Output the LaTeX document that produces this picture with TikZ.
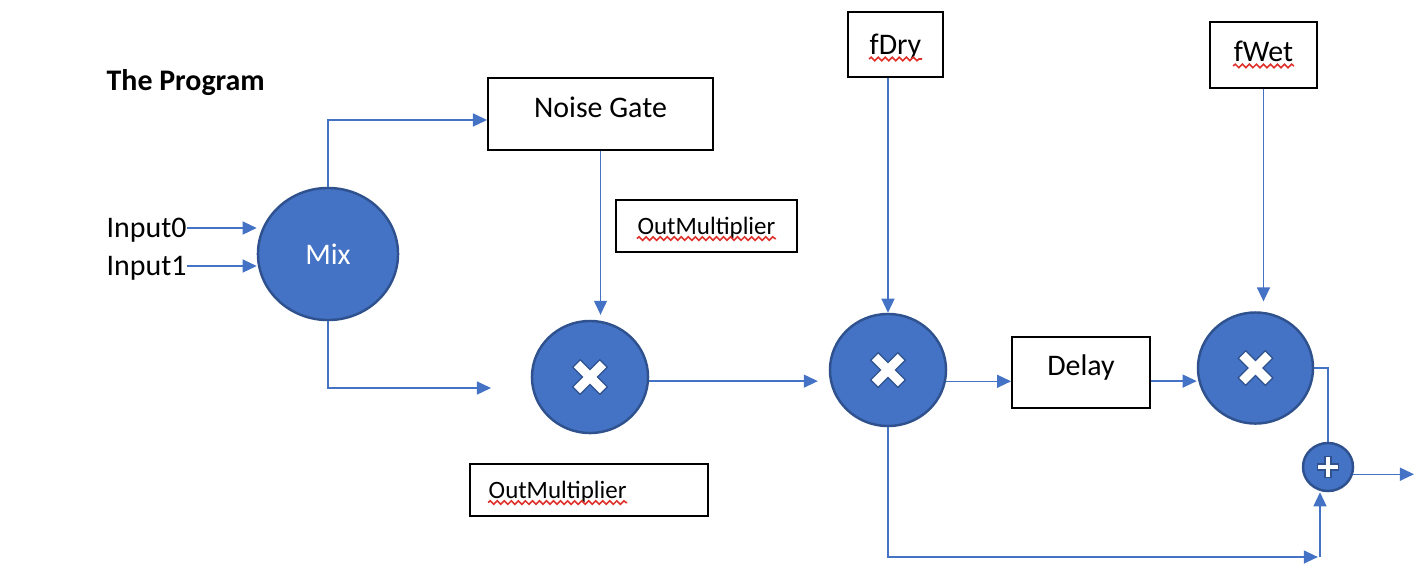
\documentclass[tikz,border=0pt]{standalone}
\usepackage{fontspec}
\setmainfont{Carlito}
\usetikzlibrary{shapes.geometric,arrows.meta,decorations.pathmorphing}
\definecolor{officeblue}{HTML}{4472C4}
\definecolor{officeline}{HTML}{2F528F}
\definecolor{spellred}{HTML}{E0302A}
\tikzset{
  op/.style={ellipse, draw=officeline, line width=0.7pt, fill=officeblue, inner sep=0pt, text=white, font=\fontsize{8.5}{10}\selectfont},
  box/.style={rectangle, draw=black, line width=0.5pt, fill=white, inner sep=0pt},
  lbl/.style={inner sep=0pt, text depth=0pt, font=\fontsize{8.5}{10}\selectfont},
  small/.style={inner sep=0pt, text depth=0pt, font=\fontsize{7.1}{9}\selectfont},
  heading/.style={inner sep=0pt, text depth=0pt, font=\fontsize{8.5}{10}\selectfont\bfseries},
  wire/.style={officeblue, line width=0.4pt},
  flow/.style={wire, -{Triangle[length=4pt,width=3.7pt]}},
  squiggle/.style={spellred, line width=0.45pt, decorate, decoration={snake, amplitude=0.5pt, segment length=2pt}},
  markout/.style={officeline, line width=3.4pt},
  markin/.style={white, line width=2.55pt},
  plusout/.style={officeline, line width=2.1pt},
  plusin/.style={white, line width=1.4pt}
}
\begin{document}
\begin{tikzpicture}[x=0.01cm, y=-0.01cm]
	\useasboundingbox (0,0) rectangle (1420,572);
	
	\node [heading, anchor=west] (title) at (106,80) {The Program};
	
	% inputs and mixer
	\node [lbl, anchor=west] (in0) at (106,228) {Input0};
	\node [lbl, anchor=west] (in1) at (106,266) {Input1};
	\node [op, minimum width=1.4cm, minimum height=1.32cm] (mix) at (328,254) {Mix};
	
	% boxes
	\node [box, minimum width=2.25cm, minimum height=0.72cm] (gate) at (600.5,114) {};
	\node [lbl] (gatetxt) at ([yshift=2pt]gate.center) {Noise Gate};
	
	\node [box, minimum width=1.81cm, minimum height=0.52cm] (omtop) at (706.5,226) {};
	\node [small] (omtoptxt) at (omtop.center) {OutMultiplier};
	
	\node [box, minimum width=2.38cm, minimum height=0.52cm] (ombot) at (589,490) {};
	\node [small, anchor=west] (ombottxt) at ([xshift=5.4pt]ombot.west) {OutMultiplier};
	
	\node [box, minimum width=0.95cm, minimum height=0.65cm] (dry) at (895.5,44.5) {};
	\node [lbl] (drytxt) at (dry.center) {fDry};
	
	\node [box, minimum width=1.07cm, minimum height=0.66cm] (wet) at (1263.5,55) {};
	\node [lbl] (wettxt) at ([yshift=1pt]wet.center) {fWet};
	
	\node [box, minimum width=1.38cm, minimum height=0.71cm] (delay) at (1081,372.5) {};
	\node [lbl] (delaytxt) at ([yshift=2.1pt]delay.center) {Delay};
	
	% multipliers and adder
	\node [op, minimum width=1.16cm, minimum height=1.12cm] (m1) at (590,377) {};
	\node [op, minimum width=1.16cm, minimum height=1.12cm] (m2) at (888,370) {};
	\node [op, minimum width=1.15cm, minimum height=1.11cm] (m3) at (1255.5,368) {};
	\node [op, minimum width=0.5cm, minimum height=0.48cm] (plus) at (1328,467) {};
	
	\draw [markout] ([shift={(-14,-14)}]m1.center) -- ([shift={(14,14)}]m1.center) ([shift={(-14,14)}]m1.center) -- ([shift={(14,-14)}]m1.center);
	\draw [markin] ([shift={(-13,-13)}]m1.center) -- ([shift={(13,13)}]m1.center) ([shift={(-13,13)}]m1.center) -- ([shift={(13,-13)}]m1.center);
	\draw [markout] ([shift={(-14,-14)}]m2.center) -- ([shift={(14,14)}]m2.center) ([shift={(-14,14)}]m2.center) -- ([shift={(14,-14)}]m2.center);
	\draw [markin] ([shift={(-13,-13)}]m2.center) -- ([shift={(13,13)}]m2.center) ([shift={(-13,13)}]m2.center) -- ([shift={(13,-13)}]m2.center);
	\draw [markout] ([shift={(-14,-14)}]m3.center) -- ([shift={(14,14)}]m3.center) ([shift={(-14,14)}]m3.center) -- ([shift={(14,-14)}]m3.center);
	\draw [markin] ([shift={(-13,-13)}]m3.center) -- ([shift={(13,13)}]m3.center) ([shift={(-13,13)}]m3.center) -- ([shift={(13,-13)}]m3.center);
	\draw [plusout] ([shift={(-11,0)}]plus.center) -- ([shift={(11,0)}]plus.center) ([shift={(0,-11)}]plus.center) -- ([shift={(0,11)}]plus.center);
	\draw [plusin] ([shift={(-9.8,0)}]plus.center) -- ([shift={(9.8,0)}]plus.center) ([shift={(0,-9.8)}]plus.center) -- ([shift={(0,9.8)}]plus.center);
	
	% spell check marks
	\draw [squiggle] ([yshift=-1.1pt]omtoptxt.base west) -- ([yshift=-1.1pt]omtoptxt.base east);
	\draw [squiggle] ([yshift=-1.1pt]ombottxt.base west) -- ([yshift=-1.1pt]ombottxt.base east);
	\draw [squiggle] ([yshift=-1.2pt]drytxt.base west) -- ([yshift=-1.2pt]drytxt.base east);
	\draw [squiggle] ([yshift=-1.2pt]wettxt.base west) -- ([yshift=-1.2pt]wettxt.base east);
	
	% free ends
	\coordinate (gatein) at ([yshift=-1.7pt]gate.west);
	\coordinate (m1in) at (491,388);
	\coordinate (out) at (1414,474);
	\coordinate (corner) at (1320,557);
	
	% connectors
	\draw [flow] (in0.east) -- (in0.east -| mix.west);
	\draw [flow] (in1.east) -- (in1.east -| mix.west);
	\draw [flow] (mix.north) |- (gatein);
	\draw [flow] (mix.south) |- (m1in);
	\draw [flow, shorten >=1.4pt] (gate.south) -- (gate.south |- m1.north);
	\draw [flow, shorten >=3.1pt] (m1.-4) -- (m1.-4 -| m2.west);
	\draw [flow] (dry.south -| m2.north) -- (m2.north);
	\draw [flow] (m2.-11) -- (m2.-11 -| delay.west);
	\draw [flow] (delay.-7) -- (delay.-7 -| m3.west);
	\draw [flow, shorten >=2.8pt] (wet.south) -- (wet.south |- m3.north);
	\draw [wire] (m3.east) -| (plus.north);
	\draw [flow] (plus.-16) -- (plus.-16 -| out);
	\draw [flow, shorten >=0.6pt] (m2.south) |- (corner);
	\draw [flow] (corner) -- (corner |- plus.south);
\end{tikzpicture}
\end{document}
